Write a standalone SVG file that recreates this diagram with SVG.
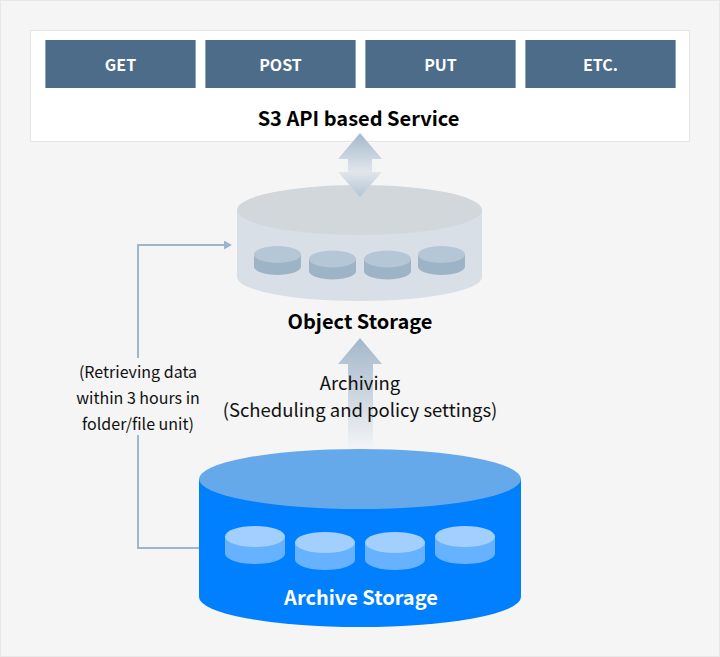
<svg xmlns="http://www.w3.org/2000/svg" width="720" height="657" viewBox="0 0 720 657">
<style>
text{font-family:"Noto Sans CJK KR","Noto Sans",sans-serif;text-anchor:middle}
.btn{fill:#4c6c8a;stroke:none}
.btnl{fill:#8ba5bd}
.bt{fill:#fff;font-size:16px;font-weight:700}
.lbl{fill:#000;font-size:20px;font-weight:700}
.nt{fill:#111;font-size:18.5px}
.ns{fill:#111;font-size:16px}
.conn{fill:none;stroke:#9fb6c9;stroke-width:2}
.ob{fill:#d8dfe7}.ot{fill:#d2d7db}.sb{fill:#9db3c6}.st{fill:#b5c6d6}
.ab{fill:#0080ff}.at{fill:#65a9eb}.mb{fill:#66b2ff}.mt{fill:#a3cfff}
</style>
<defs>
<linearGradient id="gu" x1="0" y1="0" x2="0" y2="1"><stop offset="0" stop-color="#a3b8cb"/><stop offset="1" stop-color="#e2e6eb"/></linearGradient>
<linearGradient id="gd" x1="0" y1="0" x2="0" y2="1"><stop offset="0" stop-color="#e2e6eb"/><stop offset="1" stop-color="#b3c4d3"/></linearGradient>
<linearGradient id="ga" x1="0" y1="0" x2="0" y2="1"><stop offset="0" stop-color="#a3b7ca"/><stop offset="1" stop-color="#f3f4f6"/></linearGradient>
<marker id="ah" markerWidth="8" markerHeight="10" refX="0" refY="4.500" orient="auto" markerUnits="userSpaceOnUse"><path d="M0 0L8 4.500L0 9Z" fill="#9fb6c9"/></marker>
<path id="sd" d="M-23.500 0V12A23.500 8.500 0 0 0 23.500 12V0Z" class="sb"/>
<path id="md" d="M-30 0V17A30 10.500 0 0 0 30 17V0Z" class="mb"/>
</defs>
<rect x="0.500" y="0.500" width="719" height="656" fill="#f5f5f5" stroke="#e8e8e8"/>

<g id="s3-service">
<rect x="30.500" y="30.500" width="659" height="111" fill="#fff" stroke="#e2e4ea"/>
<text x="358.500" y="126" class="lbl">S3 API based Service</text>
</g>
<g id="get"><rect x="45" y="40" width="151" height="48" class="btnl"/><rect x="46" y="40" width="149" height="48" class="btn"/><text x="120.500" y="70.500" class="bt">GET</text></g>
<g id="post"><rect x="205" y="40" width="151" height="48" class="btnl"/><rect x="206" y="40" width="149" height="48" class="btn"/><text x="280.500" y="70.500" class="bt">POST</text></g>
<g id="put"><rect x="365" y="40" width="151" height="48" class="btnl"/><rect x="366" y="40" width="149" height="48" class="btn"/><text x="440.500" y="70.500" class="bt">PUT</text></g>
<g id="etc"><rect x="525" y="40" width="151" height="48" class="btnl"/><rect x="526" y="40" width="149" height="48" class="btn"/><text x="600.500" y="70.500" class="bt">ETC.</text></g>

<g id="object-storage">
<path d="M237 210V277A122.500 24 0 0 0 482 277V210Z" class="ob"/>
<ellipse cx="359.500" cy="210" rx="122.500" ry="25" class="ot"/>
<use href="#sd" x="277.500" y="254.500"/><ellipse cx="277.500" cy="254.500" rx="23.500" ry="8.500" class="st"/>
<use href="#sd" x="332.500" y="259"/><ellipse cx="332.500" cy="259" rx="23.500" ry="8.500" class="st"/>
<use href="#sd" x="387.500" y="259"/><ellipse cx="387.500" cy="259" rx="23.500" ry="8.500" class="st"/>
<use href="#sd" x="441.500" y="254.500"/><ellipse cx="441.500" cy="254.500" rx="23.500" ry="8.500" class="st"/>
<text x="360" y="329" class="lbl">Object Storage</text>
</g>

<g id="archive-storage">
<path d="M199 479V597A161 30 0 0 0 521 597V479Z" class="ab"/>
<ellipse cx="360" cy="479" rx="161" ry="30" class="at"/>
<use href="#md" x="255" y="536.500"/><ellipse cx="255" cy="536.500" rx="30" ry="10.500" class="mt"/>
<use href="#md" x="325" y="542.500"/><ellipse cx="325" cy="542.500" rx="30" ry="10.500" class="mt"/>
<use href="#md" x="395" y="542.500"/><ellipse cx="395" cy="542.500" rx="30" ry="10.500" class="mt"/>
<use href="#md" x="465" y="536.500"/><ellipse cx="465" cy="536.500" rx="30" ry="10.500" class="mt"/>
<text x="361" y="604.500" fill="#fff" font-size="20" font-weight="700">Archive Storage</text>
</g>

<g id="connectors">
<path d="M360 133L382 159H372V172H348V159H338Z" fill="url(#gu)"/>
<path d="M338 172H382L360 197Z" fill="url(#gd)"/>
<path d="M360 338L382 364H373V449H348V364H338Z" fill="url(#ga)"/>
<path d="M138 358V245H224" class="conn" marker-end="url(#ah)"/>
<path d="M138 435V548H199" class="conn"/>
</g>

<g id="labels">
<text x="360" y="390" class="nt">Archiving</text>
<text x="360" y="417" class="nt">(Scheduling and policy settings)</text>
<text x="138" y="378" class="ns">(Retrieving data</text>
<text x="138" y="404" class="ns">within 3 hours in</text>
<text x="138" y="430" class="ns">folder/file unit)</text>
</g>
</svg>
